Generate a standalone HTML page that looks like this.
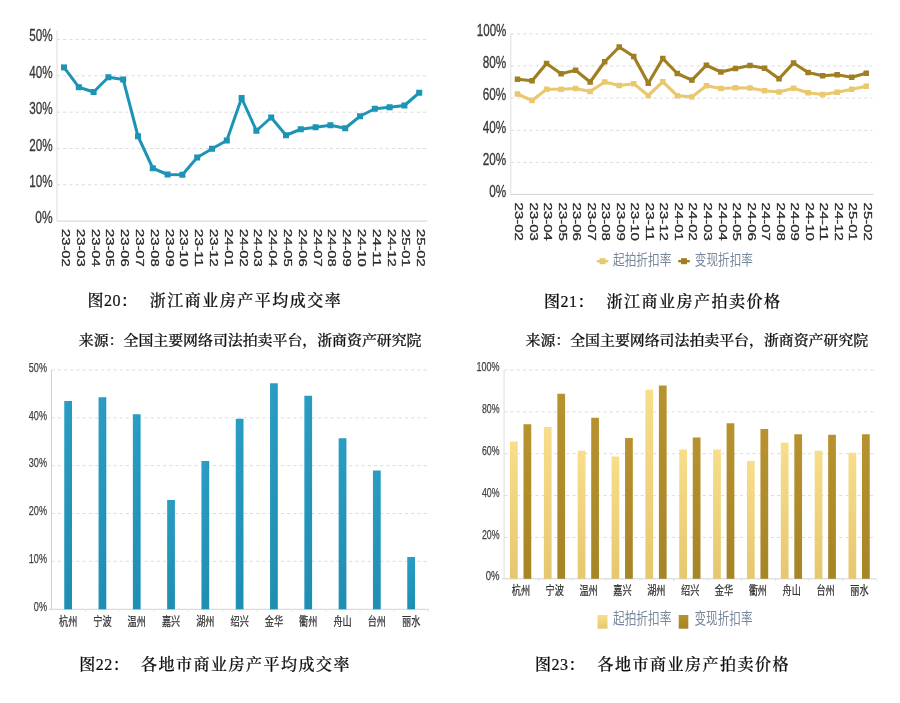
<!DOCTYPE html>
<html lang="zh-CN">
<head>
<meta charset="utf-8">
<title>浙江商业房产司法拍卖图表</title>
<style>
html,body{margin:0;padding:0;background:#fff;}
body{width:900px;height:703px;overflow:hidden;}
svg{display:block;}
</style>
</head>
<body>
<svg width="900" height="703" viewBox="0 0 900 703">
<rect x="0" y="0" width="900" height="703" fill="#ffffff"/>
<filter id="soft" x="0" y="0" width="900" height="703" filterUnits="userSpaceOnUse"><feGaussianBlur stdDeviation="0.65"/></filter>
<g filter="url(#soft)">
<line x1="57.0" y1="39.4" x2="427.3" y2="39.4" stroke="#dcdce0" stroke-width="1" stroke-dasharray="3.2 3"/>
<line x1="57.0" y1="75.8" x2="427.3" y2="75.8" stroke="#dcdce0" stroke-width="1" stroke-dasharray="3.2 3"/>
<line x1="57.0" y1="112.2" x2="427.3" y2="112.2" stroke="#dcdce0" stroke-width="1" stroke-dasharray="3.2 3"/>
<line x1="57.0" y1="148.5" x2="427.3" y2="148.5" stroke="#dcdce0" stroke-width="1" stroke-dasharray="3.2 3"/>
<line x1="57.0" y1="184.8" x2="427.3" y2="184.8" stroke="#dcdce0" stroke-width="1" stroke-dasharray="3.2 3"/>
<line x1="57.0" y1="31" x2="57.0" y2="221.1" stroke="#dddde2" stroke-width="1"/>
<line x1="57.0" y1="221.1" x2="427.3" y2="221.1" stroke="#d2d2d2" stroke-width="1"/>
<text x="52.6" y="41.4" font-size="16" fill="#363636" font-family='"Liberation Sans", "Noto Sans CJK SC", sans-serif' text-anchor="end" textLength="23.4" lengthAdjust="spacingAndGlyphs" stroke="#363636" stroke-width="0.3">50%</text>
<text x="52.6" y="77.8" font-size="16" fill="#363636" font-family='"Liberation Sans", "Noto Sans CJK SC", sans-serif' text-anchor="end" textLength="23.4" lengthAdjust="spacingAndGlyphs" stroke="#363636" stroke-width="0.3">40%</text>
<text x="52.6" y="114.2" font-size="16" fill="#363636" font-family='"Liberation Sans", "Noto Sans CJK SC", sans-serif' text-anchor="end" textLength="23.4" lengthAdjust="spacingAndGlyphs" stroke="#363636" stroke-width="0.3">30%</text>
<text x="52.6" y="150.5" font-size="16" fill="#363636" font-family='"Liberation Sans", "Noto Sans CJK SC", sans-serif' text-anchor="end" textLength="23.4" lengthAdjust="spacingAndGlyphs" stroke="#363636" stroke-width="0.3">20%</text>
<text x="52.6" y="186.8" font-size="16" fill="#363636" font-family='"Liberation Sans", "Noto Sans CJK SC", sans-serif' text-anchor="end" textLength="23.4" lengthAdjust="spacingAndGlyphs" stroke="#363636" stroke-width="0.3">10%</text>
<text x="52.6" y="223.1" font-size="16" fill="#363636" font-family='"Liberation Sans", "Noto Sans CJK SC", sans-serif' text-anchor="end" textLength="17.3" lengthAdjust="spacingAndGlyphs" stroke="#363636" stroke-width="0.3">0%</text>
<polyline fill="none" stroke="#1c94b6" stroke-width="3.0" stroke-linejoin="round" points="64.0,67.4 78.8,87.2 93.6,92 108.4,77.25 123.2,79.5 138.0,136.25 152.8,168.25 167.6,174.5 182.4,174.75 197.2,157.5 212.0,148.75 226.8,140.5 241.6,98 256.4,130.75 271.2,117.5 286.0,135.25 300.8,129.25 315.6,127.25 330.4,125.25 345.2,128.25 360.0,116.25 374.8,108.75 389.6,107.25 404.4,105.5 419.2,92.75"/>
<rect x="61.00" y="64.40" width="6.0" height="6.0" fill="#1c94b6"/>
<rect x="75.80" y="84.20" width="6.0" height="6.0" fill="#1c94b6"/>
<rect x="90.60" y="89.00" width="6.0" height="6.0" fill="#1c94b6"/>
<rect x="105.40" y="74.25" width="6.0" height="6.0" fill="#1c94b6"/>
<rect x="120.20" y="76.50" width="6.0" height="6.0" fill="#1c94b6"/>
<rect x="135.00" y="133.25" width="6.0" height="6.0" fill="#1c94b6"/>
<rect x="149.80" y="165.25" width="6.0" height="6.0" fill="#1c94b6"/>
<rect x="164.60" y="171.50" width="6.0" height="6.0" fill="#1c94b6"/>
<rect x="179.40" y="171.75" width="6.0" height="6.0" fill="#1c94b6"/>
<rect x="194.20" y="154.50" width="6.0" height="6.0" fill="#1c94b6"/>
<rect x="209.00" y="145.75" width="6.0" height="6.0" fill="#1c94b6"/>
<rect x="223.80" y="137.50" width="6.0" height="6.0" fill="#1c94b6"/>
<rect x="238.60" y="95.00" width="6.0" height="6.0" fill="#1c94b6"/>
<rect x="253.40" y="127.75" width="6.0" height="6.0" fill="#1c94b6"/>
<rect x="268.20" y="114.50" width="6.0" height="6.0" fill="#1c94b6"/>
<rect x="283.00" y="132.25" width="6.0" height="6.0" fill="#1c94b6"/>
<rect x="297.80" y="126.25" width="6.0" height="6.0" fill="#1c94b6"/>
<rect x="312.60" y="124.25" width="6.0" height="6.0" fill="#1c94b6"/>
<rect x="327.40" y="122.25" width="6.0" height="6.0" fill="#1c94b6"/>
<rect x="342.20" y="125.25" width="6.0" height="6.0" fill="#1c94b6"/>
<rect x="357.00" y="113.25" width="6.0" height="6.0" fill="#1c94b6"/>
<rect x="371.80" y="105.75" width="6.0" height="6.0" fill="#1c94b6"/>
<rect x="386.60" y="104.25" width="6.0" height="6.0" fill="#1c94b6"/>
<rect x="401.40" y="102.50" width="6.0" height="6.0" fill="#1c94b6"/>
<rect x="416.20" y="89.75" width="6.0" height="6.0" fill="#1c94b6"/>
<text transform="translate(61.9,229.0) rotate(90)" font-size="11.6" fill="#2a2a2a" stroke="#2a2a2a" stroke-width="0.3" font-family='"Liberation Sans", "Noto Sans CJK SC", sans-serif' textLength="37.8" lengthAdjust="spacingAndGlyphs">23-02</text>
<text transform="translate(76.7,229.0) rotate(90)" font-size="11.6" fill="#2a2a2a" stroke="#2a2a2a" stroke-width="0.3" font-family='"Liberation Sans", "Noto Sans CJK SC", sans-serif' textLength="37.8" lengthAdjust="spacingAndGlyphs">23-03</text>
<text transform="translate(91.5,229.0) rotate(90)" font-size="11.6" fill="#2a2a2a" stroke="#2a2a2a" stroke-width="0.3" font-family='"Liberation Sans", "Noto Sans CJK SC", sans-serif' textLength="37.8" lengthAdjust="spacingAndGlyphs">23-04</text>
<text transform="translate(106.3,229.0) rotate(90)" font-size="11.6" fill="#2a2a2a" stroke="#2a2a2a" stroke-width="0.3" font-family='"Liberation Sans", "Noto Sans CJK SC", sans-serif' textLength="37.8" lengthAdjust="spacingAndGlyphs">23-05</text>
<text transform="translate(121.1,229.0) rotate(90)" font-size="11.6" fill="#2a2a2a" stroke="#2a2a2a" stroke-width="0.3" font-family='"Liberation Sans", "Noto Sans CJK SC", sans-serif' textLength="37.8" lengthAdjust="spacingAndGlyphs">23-06</text>
<text transform="translate(135.9,229.0) rotate(90)" font-size="11.6" fill="#2a2a2a" stroke="#2a2a2a" stroke-width="0.3" font-family='"Liberation Sans", "Noto Sans CJK SC", sans-serif' textLength="37.8" lengthAdjust="spacingAndGlyphs">23-07</text>
<text transform="translate(150.7,229.0) rotate(90)" font-size="11.6" fill="#2a2a2a" stroke="#2a2a2a" stroke-width="0.3" font-family='"Liberation Sans", "Noto Sans CJK SC", sans-serif' textLength="37.8" lengthAdjust="spacingAndGlyphs">23-08</text>
<text transform="translate(165.5,229.0) rotate(90)" font-size="11.6" fill="#2a2a2a" stroke="#2a2a2a" stroke-width="0.3" font-family='"Liberation Sans", "Noto Sans CJK SC", sans-serif' textLength="37.8" lengthAdjust="spacingAndGlyphs">23-09</text>
<text transform="translate(180.3,229.0) rotate(90)" font-size="11.6" fill="#2a2a2a" stroke="#2a2a2a" stroke-width="0.3" font-family='"Liberation Sans", "Noto Sans CJK SC", sans-serif' textLength="37.8" lengthAdjust="spacingAndGlyphs">23-10</text>
<text transform="translate(195.1,229.0) rotate(90)" font-size="11.6" fill="#2a2a2a" stroke="#2a2a2a" stroke-width="0.3" font-family='"Liberation Sans", "Noto Sans CJK SC", sans-serif' textLength="37.8" lengthAdjust="spacingAndGlyphs">23-11</text>
<text transform="translate(209.9,229.0) rotate(90)" font-size="11.6" fill="#2a2a2a" stroke="#2a2a2a" stroke-width="0.3" font-family='"Liberation Sans", "Noto Sans CJK SC", sans-serif' textLength="37.8" lengthAdjust="spacingAndGlyphs">23-12</text>
<text transform="translate(224.7,229.0) rotate(90)" font-size="11.6" fill="#2a2a2a" stroke="#2a2a2a" stroke-width="0.3" font-family='"Liberation Sans", "Noto Sans CJK SC", sans-serif' textLength="37.8" lengthAdjust="spacingAndGlyphs">24-01</text>
<text transform="translate(239.5,229.0) rotate(90)" font-size="11.6" fill="#2a2a2a" stroke="#2a2a2a" stroke-width="0.3" font-family='"Liberation Sans", "Noto Sans CJK SC", sans-serif' textLength="37.8" lengthAdjust="spacingAndGlyphs">24-02</text>
<text transform="translate(254.3,229.0) rotate(90)" font-size="11.6" fill="#2a2a2a" stroke="#2a2a2a" stroke-width="0.3" font-family='"Liberation Sans", "Noto Sans CJK SC", sans-serif' textLength="37.8" lengthAdjust="spacingAndGlyphs">24-03</text>
<text transform="translate(269.1,229.0) rotate(90)" font-size="11.6" fill="#2a2a2a" stroke="#2a2a2a" stroke-width="0.3" font-family='"Liberation Sans", "Noto Sans CJK SC", sans-serif' textLength="37.8" lengthAdjust="spacingAndGlyphs">24-04</text>
<text transform="translate(283.9,229.0) rotate(90)" font-size="11.6" fill="#2a2a2a" stroke="#2a2a2a" stroke-width="0.3" font-family='"Liberation Sans", "Noto Sans CJK SC", sans-serif' textLength="37.8" lengthAdjust="spacingAndGlyphs">24-05</text>
<text transform="translate(298.7,229.0) rotate(90)" font-size="11.6" fill="#2a2a2a" stroke="#2a2a2a" stroke-width="0.3" font-family='"Liberation Sans", "Noto Sans CJK SC", sans-serif' textLength="37.8" lengthAdjust="spacingAndGlyphs">24-06</text>
<text transform="translate(313.5,229.0) rotate(90)" font-size="11.6" fill="#2a2a2a" stroke="#2a2a2a" stroke-width="0.3" font-family='"Liberation Sans", "Noto Sans CJK SC", sans-serif' textLength="37.8" lengthAdjust="spacingAndGlyphs">24-07</text>
<text transform="translate(328.3,229.0) rotate(90)" font-size="11.6" fill="#2a2a2a" stroke="#2a2a2a" stroke-width="0.3" font-family='"Liberation Sans", "Noto Sans CJK SC", sans-serif' textLength="37.8" lengthAdjust="spacingAndGlyphs">24-08</text>
<text transform="translate(343.1,229.0) rotate(90)" font-size="11.6" fill="#2a2a2a" stroke="#2a2a2a" stroke-width="0.3" font-family='"Liberation Sans", "Noto Sans CJK SC", sans-serif' textLength="37.8" lengthAdjust="spacingAndGlyphs">24-09</text>
<text transform="translate(357.9,229.0) rotate(90)" font-size="11.6" fill="#2a2a2a" stroke="#2a2a2a" stroke-width="0.3" font-family='"Liberation Sans", "Noto Sans CJK SC", sans-serif' textLength="37.8" lengthAdjust="spacingAndGlyphs">24-10</text>
<text transform="translate(372.7,229.0) rotate(90)" font-size="11.6" fill="#2a2a2a" stroke="#2a2a2a" stroke-width="0.3" font-family='"Liberation Sans", "Noto Sans CJK SC", sans-serif' textLength="37.8" lengthAdjust="spacingAndGlyphs">24-11</text>
<text transform="translate(387.5,229.0) rotate(90)" font-size="11.6" fill="#2a2a2a" stroke="#2a2a2a" stroke-width="0.3" font-family='"Liberation Sans", "Noto Sans CJK SC", sans-serif' textLength="37.8" lengthAdjust="spacingAndGlyphs">24-12</text>
<text transform="translate(402.3,229.0) rotate(90)" font-size="11.6" fill="#2a2a2a" stroke="#2a2a2a" stroke-width="0.3" font-family='"Liberation Sans", "Noto Sans CJK SC", sans-serif' textLength="37.8" lengthAdjust="spacingAndGlyphs">25-01</text>
<text transform="translate(417.1,229.0) rotate(90)" font-size="11.6" fill="#2a2a2a" stroke="#2a2a2a" stroke-width="0.3" font-family='"Liberation Sans", "Noto Sans CJK SC", sans-serif' textLength="37.8" lengthAdjust="spacingAndGlyphs">25-02</text>
<text x="87.6" y="306.3" font-size="16" fill="#111111" font-family='"Liberation Serif", "Noto Serif CJK SC", serif' text-anchor="start" letter-spacing="0.5" font-weight="500" stroke="#111111" stroke-width="0.22">图20：</text>
<text x="149.7" y="306.3" font-size="16" fill="#111111" font-family='"Liberation Serif", "Noto Serif CJK SC", serif' text-anchor="start" letter-spacing="1.5" font-weight="500" stroke="#111111" stroke-width="0.22">浙江商业房产平均成交率</text>
<text x="78.8" y="344.6" font-size="13.7" fill="#111111" font-family='"Liberation Serif", "Noto Serif CJK SC", serif' text-anchor="start" textLength="342.7" lengthAdjust="spacingAndGlyphs" font-weight="500" stroke="#111111" stroke-width="0.22">来源：全国主要网络司法拍卖平台，浙商资产研究院</text>
<line x1="510.8" y1="33.9" x2="872.5" y2="33.9" stroke="#dcdce0" stroke-width="1" stroke-dasharray="3.2 3"/>
<line x1="510.8" y1="66.0" x2="872.5" y2="66.0" stroke="#dcdce0" stroke-width="1" stroke-dasharray="3.2 3"/>
<line x1="510.8" y1="98.1" x2="872.5" y2="98.1" stroke="#dcdce0" stroke-width="1" stroke-dasharray="3.2 3"/>
<line x1="510.8" y1="130.3" x2="872.5" y2="130.3" stroke="#dcdce0" stroke-width="1" stroke-dasharray="3.2 3"/>
<line x1="510.8" y1="162.4" x2="872.5" y2="162.4" stroke="#dcdce0" stroke-width="1" stroke-dasharray="3.2 3"/>
<line x1="510.8" y1="33.9" x2="510.8" y2="194.4" stroke="#dddde2" stroke-width="1"/>
<line x1="510.8" y1="194.4" x2="873.5" y2="194.4" stroke="#d2d2d2" stroke-width="1"/>
<text x="506.3" y="36.199999999999996" font-size="16" fill="#363636" font-family='"Liberation Sans", "Noto Sans CJK SC", sans-serif' text-anchor="end" textLength="29.5" lengthAdjust="spacingAndGlyphs" stroke="#363636" stroke-width="0.3">100%</text>
<text x="506.3" y="68.3" font-size="16" fill="#363636" font-family='"Liberation Sans", "Noto Sans CJK SC", sans-serif' text-anchor="end" textLength="23.5" lengthAdjust="spacingAndGlyphs" stroke="#363636" stroke-width="0.3">80%</text>
<text x="506.3" y="100.39999999999999" font-size="16" fill="#363636" font-family='"Liberation Sans", "Noto Sans CJK SC", sans-serif' text-anchor="end" textLength="23.5" lengthAdjust="spacingAndGlyphs" stroke="#363636" stroke-width="0.3">60%</text>
<text x="506.3" y="132.60000000000002" font-size="16" fill="#363636" font-family='"Liberation Sans", "Noto Sans CJK SC", sans-serif' text-anchor="end" textLength="23.5" lengthAdjust="spacingAndGlyphs" stroke="#363636" stroke-width="0.3">40%</text>
<text x="506.3" y="164.70000000000002" font-size="16" fill="#363636" font-family='"Liberation Sans", "Noto Sans CJK SC", sans-serif' text-anchor="end" textLength="23.5" lengthAdjust="spacingAndGlyphs" stroke="#363636" stroke-width="0.3">20%</text>
<text x="506.3" y="196.70000000000002" font-size="16" fill="#363636" font-family='"Liberation Sans", "Noto Sans CJK SC", sans-serif' text-anchor="end" textLength="17.0" lengthAdjust="spacingAndGlyphs" stroke="#363636" stroke-width="0.3">0%</text>
<polyline fill="none" stroke="#e9c86f" stroke-width="3.2" stroke-linejoin="round" points="517.5,94 532.03,100.5 546.56,89.25 561.09,89.25 575.62,88.5 590.15,91.5 604.68,82 619.21,85.5 633.74,83.75 648.27,95.5 662.8,81.75 677.33,95.75 691.86,96.9 706.39,85.75 720.92,88.5 735.45,87.75 749.98,88 764.51,90.75 779.04,92 793.57,88.25 808.1,92.75 822.63,94.5 837.16,92.25 851.69,89.25 866.22,86.25"/>
<rect x="514.75" y="91.25" width="5.5" height="5.5" fill="#e9c86f"/>
<rect x="529.28" y="97.75" width="5.5" height="5.5" fill="#e9c86f"/>
<rect x="543.81" y="86.50" width="5.5" height="5.5" fill="#e9c86f"/>
<rect x="558.34" y="86.50" width="5.5" height="5.5" fill="#e9c86f"/>
<rect x="572.87" y="85.75" width="5.5" height="5.5" fill="#e9c86f"/>
<rect x="587.40" y="88.75" width="5.5" height="5.5" fill="#e9c86f"/>
<rect x="601.93" y="79.25" width="5.5" height="5.5" fill="#e9c86f"/>
<rect x="616.46" y="82.75" width="5.5" height="5.5" fill="#e9c86f"/>
<rect x="630.99" y="81.00" width="5.5" height="5.5" fill="#e9c86f"/>
<rect x="645.52" y="92.75" width="5.5" height="5.5" fill="#e9c86f"/>
<rect x="660.05" y="79.00" width="5.5" height="5.5" fill="#e9c86f"/>
<rect x="674.58" y="93.00" width="5.5" height="5.5" fill="#e9c86f"/>
<rect x="689.11" y="94.15" width="5.5" height="5.5" fill="#e9c86f"/>
<rect x="703.64" y="83.00" width="5.5" height="5.5" fill="#e9c86f"/>
<rect x="718.17" y="85.75" width="5.5" height="5.5" fill="#e9c86f"/>
<rect x="732.70" y="85.00" width="5.5" height="5.5" fill="#e9c86f"/>
<rect x="747.23" y="85.25" width="5.5" height="5.5" fill="#e9c86f"/>
<rect x="761.76" y="88.00" width="5.5" height="5.5" fill="#e9c86f"/>
<rect x="776.29" y="89.25" width="5.5" height="5.5" fill="#e9c86f"/>
<rect x="790.82" y="85.50" width="5.5" height="5.5" fill="#e9c86f"/>
<rect x="805.35" y="90.00" width="5.5" height="5.5" fill="#e9c86f"/>
<rect x="819.88" y="91.75" width="5.5" height="5.5" fill="#e9c86f"/>
<rect x="834.41" y="89.50" width="5.5" height="5.5" fill="#e9c86f"/>
<rect x="848.94" y="86.50" width="5.5" height="5.5" fill="#e9c86f"/>
<rect x="863.47" y="83.50" width="5.5" height="5.5" fill="#e9c86f"/>
<polyline fill="none" stroke="#a07e20" stroke-width="3.2" stroke-linejoin="round" points="517.5,79.25 532.03,80.75 546.56,63.5 561.09,73.75 575.62,70.25 590.15,82 604.68,61.75 619.21,47 633.74,56.5 648.27,83.25 662.8,58.5 677.33,73.5 691.86,80.1 706.39,65.25 720.92,72 735.45,68.5 749.98,65.5 764.51,68.25 779.04,78.75 793.57,63 808.1,72.5 822.63,75.75 837.16,74.75 851.69,77.25 866.22,73.25"/>
<rect x="514.75" y="76.50" width="5.5" height="5.5" fill="#a07e20"/>
<rect x="529.28" y="78.00" width="5.5" height="5.5" fill="#a07e20"/>
<rect x="543.81" y="60.75" width="5.5" height="5.5" fill="#a07e20"/>
<rect x="558.34" y="71.00" width="5.5" height="5.5" fill="#a07e20"/>
<rect x="572.87" y="67.50" width="5.5" height="5.5" fill="#a07e20"/>
<rect x="587.40" y="79.25" width="5.5" height="5.5" fill="#a07e20"/>
<rect x="601.93" y="59.00" width="5.5" height="5.5" fill="#a07e20"/>
<rect x="616.46" y="44.25" width="5.5" height="5.5" fill="#a07e20"/>
<rect x="630.99" y="53.75" width="5.5" height="5.5" fill="#a07e20"/>
<rect x="645.52" y="80.50" width="5.5" height="5.5" fill="#a07e20"/>
<rect x="660.05" y="55.75" width="5.5" height="5.5" fill="#a07e20"/>
<rect x="674.58" y="70.75" width="5.5" height="5.5" fill="#a07e20"/>
<rect x="689.11" y="77.35" width="5.5" height="5.5" fill="#a07e20"/>
<rect x="703.64" y="62.50" width="5.5" height="5.5" fill="#a07e20"/>
<rect x="718.17" y="69.25" width="5.5" height="5.5" fill="#a07e20"/>
<rect x="732.70" y="65.75" width="5.5" height="5.5" fill="#a07e20"/>
<rect x="747.23" y="62.75" width="5.5" height="5.5" fill="#a07e20"/>
<rect x="761.76" y="65.50" width="5.5" height="5.5" fill="#a07e20"/>
<rect x="776.29" y="76.00" width="5.5" height="5.5" fill="#a07e20"/>
<rect x="790.82" y="60.25" width="5.5" height="5.5" fill="#a07e20"/>
<rect x="805.35" y="69.75" width="5.5" height="5.5" fill="#a07e20"/>
<rect x="819.88" y="73.00" width="5.5" height="5.5" fill="#a07e20"/>
<rect x="834.41" y="72.00" width="5.5" height="5.5" fill="#a07e20"/>
<rect x="848.94" y="74.50" width="5.5" height="5.5" fill="#a07e20"/>
<rect x="863.47" y="70.50" width="5.5" height="5.5" fill="#a07e20"/>
<text transform="translate(515.1,202.6) rotate(90)" font-size="11.6" fill="#2a2a2a" stroke="#2a2a2a" stroke-width="0.3" font-family='"Liberation Sans", "Noto Sans CJK SC", sans-serif' textLength="38.2" lengthAdjust="spacingAndGlyphs">23-02</text>
<text transform="translate(529.63,202.6) rotate(90)" font-size="11.6" fill="#2a2a2a" stroke="#2a2a2a" stroke-width="0.3" font-family='"Liberation Sans", "Noto Sans CJK SC", sans-serif' textLength="38.2" lengthAdjust="spacingAndGlyphs">23-03</text>
<text transform="translate(544.16,202.6) rotate(90)" font-size="11.6" fill="#2a2a2a" stroke="#2a2a2a" stroke-width="0.3" font-family='"Liberation Sans", "Noto Sans CJK SC", sans-serif' textLength="38.2" lengthAdjust="spacingAndGlyphs">23-04</text>
<text transform="translate(558.69,202.6) rotate(90)" font-size="11.6" fill="#2a2a2a" stroke="#2a2a2a" stroke-width="0.3" font-family='"Liberation Sans", "Noto Sans CJK SC", sans-serif' textLength="38.2" lengthAdjust="spacingAndGlyphs">23-05</text>
<text transform="translate(573.22,202.6) rotate(90)" font-size="11.6" fill="#2a2a2a" stroke="#2a2a2a" stroke-width="0.3" font-family='"Liberation Sans", "Noto Sans CJK SC", sans-serif' textLength="38.2" lengthAdjust="spacingAndGlyphs">23-06</text>
<text transform="translate(587.75,202.6) rotate(90)" font-size="11.6" fill="#2a2a2a" stroke="#2a2a2a" stroke-width="0.3" font-family='"Liberation Sans", "Noto Sans CJK SC", sans-serif' textLength="38.2" lengthAdjust="spacingAndGlyphs">23-07</text>
<text transform="translate(602.28,202.6) rotate(90)" font-size="11.6" fill="#2a2a2a" stroke="#2a2a2a" stroke-width="0.3" font-family='"Liberation Sans", "Noto Sans CJK SC", sans-serif' textLength="38.2" lengthAdjust="spacingAndGlyphs">23-08</text>
<text transform="translate(616.81,202.6) rotate(90)" font-size="11.6" fill="#2a2a2a" stroke="#2a2a2a" stroke-width="0.3" font-family='"Liberation Sans", "Noto Sans CJK SC", sans-serif' textLength="38.2" lengthAdjust="spacingAndGlyphs">23-09</text>
<text transform="translate(631.34,202.6) rotate(90)" font-size="11.6" fill="#2a2a2a" stroke="#2a2a2a" stroke-width="0.3" font-family='"Liberation Sans", "Noto Sans CJK SC", sans-serif' textLength="38.2" lengthAdjust="spacingAndGlyphs">23-10</text>
<text transform="translate(645.87,202.6) rotate(90)" font-size="11.6" fill="#2a2a2a" stroke="#2a2a2a" stroke-width="0.3" font-family='"Liberation Sans", "Noto Sans CJK SC", sans-serif' textLength="38.2" lengthAdjust="spacingAndGlyphs">23-11</text>
<text transform="translate(660.4,202.6) rotate(90)" font-size="11.6" fill="#2a2a2a" stroke="#2a2a2a" stroke-width="0.3" font-family='"Liberation Sans", "Noto Sans CJK SC", sans-serif' textLength="38.2" lengthAdjust="spacingAndGlyphs">23-12</text>
<text transform="translate(674.93,202.6) rotate(90)" font-size="11.6" fill="#2a2a2a" stroke="#2a2a2a" stroke-width="0.3" font-family='"Liberation Sans", "Noto Sans CJK SC", sans-serif' textLength="38.2" lengthAdjust="spacingAndGlyphs">24-01</text>
<text transform="translate(689.46,202.6) rotate(90)" font-size="11.6" fill="#2a2a2a" stroke="#2a2a2a" stroke-width="0.3" font-family='"Liberation Sans", "Noto Sans CJK SC", sans-serif' textLength="38.2" lengthAdjust="spacingAndGlyphs">24-02</text>
<text transform="translate(703.99,202.6) rotate(90)" font-size="11.6" fill="#2a2a2a" stroke="#2a2a2a" stroke-width="0.3" font-family='"Liberation Sans", "Noto Sans CJK SC", sans-serif' textLength="38.2" lengthAdjust="spacingAndGlyphs">24-03</text>
<text transform="translate(718.52,202.6) rotate(90)" font-size="11.6" fill="#2a2a2a" stroke="#2a2a2a" stroke-width="0.3" font-family='"Liberation Sans", "Noto Sans CJK SC", sans-serif' textLength="38.2" lengthAdjust="spacingAndGlyphs">24-04</text>
<text transform="translate(733.05,202.6) rotate(90)" font-size="11.6" fill="#2a2a2a" stroke="#2a2a2a" stroke-width="0.3" font-family='"Liberation Sans", "Noto Sans CJK SC", sans-serif' textLength="38.2" lengthAdjust="spacingAndGlyphs">24-05</text>
<text transform="translate(747.58,202.6) rotate(90)" font-size="11.6" fill="#2a2a2a" stroke="#2a2a2a" stroke-width="0.3" font-family='"Liberation Sans", "Noto Sans CJK SC", sans-serif' textLength="38.2" lengthAdjust="spacingAndGlyphs">24-06</text>
<text transform="translate(762.11,202.6) rotate(90)" font-size="11.6" fill="#2a2a2a" stroke="#2a2a2a" stroke-width="0.3" font-family='"Liberation Sans", "Noto Sans CJK SC", sans-serif' textLength="38.2" lengthAdjust="spacingAndGlyphs">24-07</text>
<text transform="translate(776.64,202.6) rotate(90)" font-size="11.6" fill="#2a2a2a" stroke="#2a2a2a" stroke-width="0.3" font-family='"Liberation Sans", "Noto Sans CJK SC", sans-serif' textLength="38.2" lengthAdjust="spacingAndGlyphs">24-08</text>
<text transform="translate(791.17,202.6) rotate(90)" font-size="11.6" fill="#2a2a2a" stroke="#2a2a2a" stroke-width="0.3" font-family='"Liberation Sans", "Noto Sans CJK SC", sans-serif' textLength="38.2" lengthAdjust="spacingAndGlyphs">24-09</text>
<text transform="translate(805.7,202.6) rotate(90)" font-size="11.6" fill="#2a2a2a" stroke="#2a2a2a" stroke-width="0.3" font-family='"Liberation Sans", "Noto Sans CJK SC", sans-serif' textLength="38.2" lengthAdjust="spacingAndGlyphs">24-10</text>
<text transform="translate(820.23,202.6) rotate(90)" font-size="11.6" fill="#2a2a2a" stroke="#2a2a2a" stroke-width="0.3" font-family='"Liberation Sans", "Noto Sans CJK SC", sans-serif' textLength="38.2" lengthAdjust="spacingAndGlyphs">24-11</text>
<text transform="translate(834.76,202.6) rotate(90)" font-size="11.6" fill="#2a2a2a" stroke="#2a2a2a" stroke-width="0.3" font-family='"Liberation Sans", "Noto Sans CJK SC", sans-serif' textLength="38.2" lengthAdjust="spacingAndGlyphs">24-12</text>
<text transform="translate(849.29,202.6) rotate(90)" font-size="11.6" fill="#2a2a2a" stroke="#2a2a2a" stroke-width="0.3" font-family='"Liberation Sans", "Noto Sans CJK SC", sans-serif' textLength="38.2" lengthAdjust="spacingAndGlyphs">25-01</text>
<text transform="translate(863.82,202.6) rotate(90)" font-size="11.6" fill="#2a2a2a" stroke="#2a2a2a" stroke-width="0.3" font-family='"Liberation Sans", "Noto Sans CJK SC", sans-serif' textLength="38.2" lengthAdjust="spacingAndGlyphs">25-02</text>
<line x1="596.8" y1="261.2" x2="608.4" y2="261.2" stroke="#e9c86f" stroke-width="2.4"/>
<rect x="599.6" y="258.2" width="6" height="6" fill="#e9c86f"/>
<text x="613.0" y="264.6" font-size="15" fill="#78879b" font-family='"Liberation Sans", "Noto Sans CJK SC", sans-serif' text-anchor="start" textLength="58.4" lengthAdjust="spacingAndGlyphs">起拍折扣率</text>
<line x1="678.2" y1="261.2" x2="689.8" y2="261.2" stroke="#a07e20" stroke-width="2.4"/>
<rect x="681.0" y="258.2" width="6" height="6" fill="#a07e20"/>
<text x="694.8" y="264.6" font-size="15" fill="#78879b" font-family='"Liberation Sans", "Noto Sans CJK SC", sans-serif' text-anchor="start" textLength="58.2" lengthAdjust="spacingAndGlyphs">变现折扣率</text>
<text x="544.0" y="306.8" font-size="16" fill="#111111" font-family='"Liberation Serif", "Noto Serif CJK SC", serif' text-anchor="start" letter-spacing="0.5" font-weight="500" stroke="#111111" stroke-width="0.22">图21：</text>
<text x="606.5" y="306.8" font-size="16" fill="#111111" font-family='"Liberation Serif", "Noto Serif CJK SC", serif' text-anchor="start" letter-spacing="1.5" font-weight="500" stroke="#111111" stroke-width="0.22">浙江商业房产拍卖价格</text>
<text x="525.5" y="344.8" font-size="13.7" fill="#111111" font-family='"Liberation Serif", "Noto Serif CJK SC", serif' text-anchor="start" textLength="342.7" lengthAdjust="spacingAndGlyphs" font-weight="500" stroke="#111111" stroke-width="0.22">来源：全国主要网络司法拍卖平台，浙商资产研究院</text>
<defs><linearGradient id="gb" x1="0" x2="0.25" y1="0" y2="1"><stop offset="0" stop-color="#2b9ec5"/><stop offset="1" stop-color="#1f8fb3"/></linearGradient><linearGradient id="gl" x1="0" x2="0" y1="0" y2="1"><stop offset="0" stop-color="#f8de8a"/><stop offset="1" stop-color="#e6c76f"/></linearGradient><linearGradient id="gd" x1="0" x2="0" y1="0" y2="1"><stop offset="0" stop-color="#b8922f"/><stop offset="1" stop-color="#a68527"/></linearGradient></defs>
<line x1="51.5" y1="370.0" x2="430" y2="370.0" stroke="#dcdce0" stroke-width="1" stroke-dasharray="3.2 3"/>
<line x1="51.5" y1="417.85" x2="430" y2="417.85" stroke="#dcdce0" stroke-width="1" stroke-dasharray="3.2 3"/>
<line x1="51.5" y1="465.65" x2="430" y2="465.65" stroke="#dcdce0" stroke-width="1" stroke-dasharray="3.2 3"/>
<line x1="51.5" y1="513.5" x2="430" y2="513.5" stroke="#dcdce0" stroke-width="1" stroke-dasharray="3.2 3"/>
<line x1="51.5" y1="561.3" x2="430" y2="561.3" stroke="#dcdce0" stroke-width="1" stroke-dasharray="3.2 3"/>
<line x1="51.5" y1="370.0" x2="51.5" y2="609.3" stroke="#d2d2d2" stroke-width="1"/>
<line x1="49.0" y1="609.3" x2="428.7" y2="609.3" stroke="#d2d2d2" stroke-width="1"/>
<text x="47" y="371.8" font-size="13.2" fill="#404040" font-family='"Liberation Sans", "Noto Sans CJK SC", sans-serif' text-anchor="end" textLength="18.2" lengthAdjust="spacingAndGlyphs" stroke="#404040" stroke-width="0.25">50%</text>
<text x="47" y="419.65000000000003" font-size="13.2" fill="#404040" font-family='"Liberation Sans", "Noto Sans CJK SC", sans-serif' text-anchor="end" textLength="18.2" lengthAdjust="spacingAndGlyphs" stroke="#404040" stroke-width="0.25">40%</text>
<text x="47" y="467.45" font-size="13.2" fill="#404040" font-family='"Liberation Sans", "Noto Sans CJK SC", sans-serif' text-anchor="end" textLength="18.2" lengthAdjust="spacingAndGlyphs" stroke="#404040" stroke-width="0.25">30%</text>
<text x="47" y="515.3" font-size="13.2" fill="#404040" font-family='"Liberation Sans", "Noto Sans CJK SC", sans-serif' text-anchor="end" textLength="18.2" lengthAdjust="spacingAndGlyphs" stroke="#404040" stroke-width="0.25">20%</text>
<text x="47" y="563.0999999999999" font-size="13.2" fill="#404040" font-family='"Liberation Sans", "Noto Sans CJK SC", sans-serif' text-anchor="end" textLength="18.2" lengthAdjust="spacingAndGlyphs" stroke="#404040" stroke-width="0.25">10%</text>
<text x="47" y="611.0999999999999" font-size="13.2" fill="#404040" font-family='"Liberation Sans", "Noto Sans CJK SC", sans-serif' text-anchor="end" textLength="13.2" lengthAdjust="spacingAndGlyphs" stroke="#404040" stroke-width="0.25">0%</text>
<rect x="64.25" y="401" width="7.75" height="208.30" fill="url(#gb)"/>
<text x="68.15" y="625.5" font-size="12.1" fill="#333333" font-family='"Liberation Sans", "Noto Sans CJK SC", sans-serif' text-anchor="middle" textLength="18.3" lengthAdjust="spacingAndGlyphs" stroke="#333333" stroke-width="0.25">杭州</text>
<line x1="85.6" y1="609.3" x2="85.6" y2="611.8" stroke="#e2e2e2" stroke-width="1"/>
<rect x="98.55" y="397.25" width="7.75" height="212.05" fill="url(#gb)"/>
<text x="102.45" y="625.5" font-size="12.1" fill="#333333" font-family='"Liberation Sans", "Noto Sans CJK SC", sans-serif' text-anchor="middle" textLength="18.3" lengthAdjust="spacingAndGlyphs" stroke="#333333" stroke-width="0.25">宁波</text>
<line x1="119.9" y1="609.3" x2="119.9" y2="611.8" stroke="#e2e2e2" stroke-width="1"/>
<rect x="132.85" y="414.25" width="7.75" height="195.05" fill="url(#gb)"/>
<text x="136.75" y="625.5" font-size="12.1" fill="#333333" font-family='"Liberation Sans", "Noto Sans CJK SC", sans-serif' text-anchor="middle" textLength="18.3" lengthAdjust="spacingAndGlyphs" stroke="#333333" stroke-width="0.25">温州</text>
<line x1="154.2" y1="609.3" x2="154.2" y2="611.8" stroke="#e2e2e2" stroke-width="1"/>
<rect x="167.15" y="500" width="7.75" height="109.30" fill="url(#gb)"/>
<text x="171.05" y="625.5" font-size="12.1" fill="#333333" font-family='"Liberation Sans", "Noto Sans CJK SC", sans-serif' text-anchor="middle" textLength="18.3" lengthAdjust="spacingAndGlyphs" stroke="#333333" stroke-width="0.25">嘉兴</text>
<line x1="188.5" y1="609.3" x2="188.5" y2="611.8" stroke="#e2e2e2" stroke-width="1"/>
<rect x="201.45" y="461" width="7.75" height="148.30" fill="url(#gb)"/>
<text x="205.35" y="625.5" font-size="12.1" fill="#333333" font-family='"Liberation Sans", "Noto Sans CJK SC", sans-serif' text-anchor="middle" textLength="18.3" lengthAdjust="spacingAndGlyphs" stroke="#333333" stroke-width="0.25">湖州</text>
<line x1="222.8" y1="609.3" x2="222.8" y2="611.8" stroke="#e2e2e2" stroke-width="1"/>
<rect x="235.75" y="418.75" width="7.75" height="190.55" fill="url(#gb)"/>
<text x="239.65" y="625.5" font-size="12.1" fill="#333333" font-family='"Liberation Sans", "Noto Sans CJK SC", sans-serif' text-anchor="middle" textLength="18.3" lengthAdjust="spacingAndGlyphs" stroke="#333333" stroke-width="0.25">绍兴</text>
<line x1="257.1" y1="609.3" x2="257.1" y2="611.8" stroke="#e2e2e2" stroke-width="1"/>
<rect x="270.05" y="383.25" width="7.75" height="226.05" fill="url(#gb)"/>
<text x="273.95" y="625.5" font-size="12.1" fill="#333333" font-family='"Liberation Sans", "Noto Sans CJK SC", sans-serif' text-anchor="middle" textLength="18.3" lengthAdjust="spacingAndGlyphs" stroke="#333333" stroke-width="0.25">金华</text>
<line x1="291.4" y1="609.3" x2="291.4" y2="611.8" stroke="#e2e2e2" stroke-width="1"/>
<rect x="304.35" y="395.75" width="7.75" height="213.55" fill="url(#gb)"/>
<text x="308.25" y="625.5" font-size="12.1" fill="#333333" font-family='"Liberation Sans", "Noto Sans CJK SC", sans-serif' text-anchor="middle" textLength="18.3" lengthAdjust="spacingAndGlyphs" stroke="#333333" stroke-width="0.25">衢州</text>
<line x1="325.7" y1="609.3" x2="325.7" y2="611.8" stroke="#e2e2e2" stroke-width="1"/>
<rect x="338.65" y="438.25" width="7.75" height="171.05" fill="url(#gb)"/>
<text x="342.55" y="625.5" font-size="12.1" fill="#333333" font-family='"Liberation Sans", "Noto Sans CJK SC", sans-serif' text-anchor="middle" textLength="18.3" lengthAdjust="spacingAndGlyphs" stroke="#333333" stroke-width="0.25">舟山</text>
<line x1="360.0" y1="609.3" x2="360.0" y2="611.8" stroke="#e2e2e2" stroke-width="1"/>
<rect x="372.95" y="470.5" width="7.75" height="138.80" fill="url(#gb)"/>
<text x="376.85" y="625.5" font-size="12.1" fill="#333333" font-family='"Liberation Sans", "Noto Sans CJK SC", sans-serif' text-anchor="middle" textLength="18.3" lengthAdjust="spacingAndGlyphs" stroke="#333333" stroke-width="0.25">台州</text>
<line x1="394.3" y1="609.3" x2="394.3" y2="611.8" stroke="#e2e2e2" stroke-width="1"/>
<rect x="407.25" y="557" width="7.75" height="52.30" fill="url(#gb)"/>
<text x="411.15" y="625.5" font-size="12.1" fill="#333333" font-family='"Liberation Sans", "Noto Sans CJK SC", sans-serif' text-anchor="middle" textLength="18.3" lengthAdjust="spacingAndGlyphs" stroke="#333333" stroke-width="0.25">丽水</text>
<line x1="428.6" y1="609.3" x2="428.6" y2="611.8" stroke="#e2e2e2" stroke-width="1"/>
<text x="79.3" y="670" font-size="16" fill="#111111" font-family='"Liberation Serif", "Noto Serif CJK SC", serif' text-anchor="start" letter-spacing="0.5" font-weight="500" stroke="#111111" stroke-width="0.22">图22：</text>
<text x="141" y="670" font-size="16" fill="#111111" font-family='"Liberation Serif", "Noto Serif CJK SC", serif' text-anchor="start" letter-spacing="1.5" font-weight="500" stroke="#111111" stroke-width="0.22">各地市商业房产平均成交率</text>
<line x1="504.3" y1="370.0" x2="876" y2="370.0" stroke="#dcdce0" stroke-width="1" stroke-dasharray="3.2 3"/>
<line x1="504.3" y1="411.85" x2="876" y2="411.85" stroke="#dcdce0" stroke-width="1" stroke-dasharray="3.2 3"/>
<line x1="504.3" y1="453.7" x2="876" y2="453.7" stroke="#dcdce0" stroke-width="1" stroke-dasharray="3.2 3"/>
<line x1="504.3" y1="495.6" x2="876" y2="495.6" stroke="#dcdce0" stroke-width="1" stroke-dasharray="3.2 3"/>
<line x1="504.3" y1="537.45" x2="876" y2="537.45" stroke="#dcdce0" stroke-width="1" stroke-dasharray="3.2 3"/>
<line x1="504.1" y1="370.0" x2="504.1" y2="578.8" stroke="#dddde2" stroke-width="1"/>
<line x1="502.2" y1="578.8" x2="876" y2="578.8" stroke="#d2d2d2" stroke-width="1"/>
<text x="499.5" y="371.4" font-size="13.2" fill="#404040" font-family='"Liberation Sans", "Noto Sans CJK SC", sans-serif' text-anchor="end" textLength="23" lengthAdjust="spacingAndGlyphs" stroke="#404040" stroke-width="0.25">100%</text>
<text x="499.5" y="413.25" font-size="13.2" fill="#404040" font-family='"Liberation Sans", "Noto Sans CJK SC", sans-serif' text-anchor="end" textLength="17.6" lengthAdjust="spacingAndGlyphs" stroke="#404040" stroke-width="0.25">80%</text>
<text x="499.5" y="455.09999999999997" font-size="13.2" fill="#404040" font-family='"Liberation Sans", "Noto Sans CJK SC", sans-serif' text-anchor="end" textLength="17.6" lengthAdjust="spacingAndGlyphs" stroke="#404040" stroke-width="0.25">60%</text>
<text x="499.5" y="497.0" font-size="13.2" fill="#404040" font-family='"Liberation Sans", "Noto Sans CJK SC", sans-serif' text-anchor="end" textLength="17.6" lengthAdjust="spacingAndGlyphs" stroke="#404040" stroke-width="0.25">40%</text>
<text x="499.5" y="538.85" font-size="13.2" fill="#404040" font-family='"Liberation Sans", "Noto Sans CJK SC", sans-serif' text-anchor="end" textLength="17.6" lengthAdjust="spacingAndGlyphs" stroke="#404040" stroke-width="0.25">20%</text>
<text x="499.5" y="580.1999999999999" font-size="13.2" fill="#404040" font-family='"Liberation Sans", "Noto Sans CJK SC", sans-serif' text-anchor="end" textLength="13.8" lengthAdjust="spacingAndGlyphs" stroke="#404040" stroke-width="0.25">0%</text>
<rect x="510.00" y="441.5" width="7.75" height="137.30" fill="url(#gl)"/>
<rect x="523.50" y="424.25" width="7.75" height="154.55" fill="url(#gd)"/>
<text x="520.9" y="595.4" font-size="12.2" fill="#333333" font-family='"Liberation Sans", "Noto Sans CJK SC", sans-serif' text-anchor="middle" textLength="18.3" lengthAdjust="spacingAndGlyphs" stroke="#333333" stroke-width="0.25">杭州</text>
<line x1="538.35" y1="578.8" x2="538.35" y2="581.3" stroke="#e2e2e2" stroke-width="1"/>
<rect x="543.85" y="427" width="7.75" height="151.80" fill="url(#gl)"/>
<rect x="557.35" y="393.75" width="7.75" height="185.05" fill="url(#gd)"/>
<text x="554.75" y="595.4" font-size="12.2" fill="#333333" font-family='"Liberation Sans", "Noto Sans CJK SC", sans-serif' text-anchor="middle" textLength="18.3" lengthAdjust="spacingAndGlyphs" stroke="#333333" stroke-width="0.25">宁波</text>
<line x1="572.2" y1="578.8" x2="572.2" y2="581.3" stroke="#e2e2e2" stroke-width="1"/>
<rect x="577.70" y="450.75" width="7.75" height="128.05" fill="url(#gl)"/>
<rect x="591.20" y="417.75" width="7.75" height="161.05" fill="url(#gd)"/>
<text x="588.6" y="595.4" font-size="12.2" fill="#333333" font-family='"Liberation Sans", "Noto Sans CJK SC", sans-serif' text-anchor="middle" textLength="18.3" lengthAdjust="spacingAndGlyphs" stroke="#333333" stroke-width="0.25">温州</text>
<line x1="606.05" y1="578.8" x2="606.05" y2="581.3" stroke="#e2e2e2" stroke-width="1"/>
<rect x="611.55" y="456.5" width="7.75" height="122.30" fill="url(#gl)"/>
<rect x="625.05" y="438" width="7.75" height="140.80" fill="url(#gd)"/>
<text x="622.45" y="595.4" font-size="12.2" fill="#333333" font-family='"Liberation Sans", "Noto Sans CJK SC", sans-serif' text-anchor="middle" textLength="18.3" lengthAdjust="spacingAndGlyphs" stroke="#333333" stroke-width="0.25">嘉兴</text>
<line x1="639.9" y1="578.8" x2="639.9" y2="581.3" stroke="#e2e2e2" stroke-width="1"/>
<rect x="645.40" y="389.75" width="7.75" height="189.05" fill="url(#gl)"/>
<rect x="658.90" y="385.5" width="7.75" height="193.30" fill="url(#gd)"/>
<text x="656.3" y="595.4" font-size="12.2" fill="#333333" font-family='"Liberation Sans", "Noto Sans CJK SC", sans-serif' text-anchor="middle" textLength="18.3" lengthAdjust="spacingAndGlyphs" stroke="#333333" stroke-width="0.25">湖州</text>
<line x1="673.75" y1="578.8" x2="673.75" y2="581.3" stroke="#e2e2e2" stroke-width="1"/>
<rect x="679.25" y="449.5" width="7.75" height="129.30" fill="url(#gl)"/>
<rect x="692.75" y="437.5" width="7.75" height="141.30" fill="url(#gd)"/>
<text x="690.15" y="595.4" font-size="12.2" fill="#333333" font-family='"Liberation Sans", "Noto Sans CJK SC", sans-serif' text-anchor="middle" textLength="18.3" lengthAdjust="spacingAndGlyphs" stroke="#333333" stroke-width="0.25">绍兴</text>
<line x1="707.6" y1="578.8" x2="707.6" y2="581.3" stroke="#e2e2e2" stroke-width="1"/>
<rect x="713.10" y="449.5" width="7.75" height="129.30" fill="url(#gl)"/>
<rect x="726.60" y="423.25" width="7.75" height="155.55" fill="url(#gd)"/>
<text x="724.0" y="595.4" font-size="12.2" fill="#333333" font-family='"Liberation Sans", "Noto Sans CJK SC", sans-serif' text-anchor="middle" textLength="18.3" lengthAdjust="spacingAndGlyphs" stroke="#333333" stroke-width="0.25">金华</text>
<line x1="741.45" y1="578.8" x2="741.45" y2="581.3" stroke="#e2e2e2" stroke-width="1"/>
<rect x="746.95" y="461" width="7.75" height="117.80" fill="url(#gl)"/>
<rect x="760.45" y="429" width="7.75" height="149.80" fill="url(#gd)"/>
<text x="757.85" y="595.4" font-size="12.2" fill="#333333" font-family='"Liberation Sans", "Noto Sans CJK SC", sans-serif' text-anchor="middle" textLength="18.3" lengthAdjust="spacingAndGlyphs" stroke="#333333" stroke-width="0.25">衢州</text>
<line x1="775.3" y1="578.8" x2="775.3" y2="581.3" stroke="#e2e2e2" stroke-width="1"/>
<rect x="780.80" y="442.5" width="7.75" height="136.30" fill="url(#gl)"/>
<rect x="794.30" y="434.25" width="7.75" height="144.55" fill="url(#gd)"/>
<text x="791.7" y="595.4" font-size="12.2" fill="#333333" font-family='"Liberation Sans", "Noto Sans CJK SC", sans-serif' text-anchor="middle" textLength="18.3" lengthAdjust="spacingAndGlyphs" stroke="#333333" stroke-width="0.25">舟山</text>
<line x1="809.15" y1="578.8" x2="809.15" y2="581.3" stroke="#e2e2e2" stroke-width="1"/>
<rect x="814.65" y="450.75" width="7.75" height="128.05" fill="url(#gl)"/>
<rect x="828.15" y="434.75" width="7.75" height="144.05" fill="url(#gd)"/>
<text x="825.55" y="595.4" font-size="12.2" fill="#333333" font-family='"Liberation Sans", "Noto Sans CJK SC", sans-serif' text-anchor="middle" textLength="18.3" lengthAdjust="spacingAndGlyphs" stroke="#333333" stroke-width="0.25">台州</text>
<line x1="843.0" y1="578.8" x2="843.0" y2="581.3" stroke="#e2e2e2" stroke-width="1"/>
<rect x="848.50" y="452.75" width="7.75" height="126.05" fill="url(#gl)"/>
<rect x="862.00" y="434.25" width="7.75" height="144.55" fill="url(#gd)"/>
<text x="859.4" y="595.4" font-size="12.2" fill="#333333" font-family='"Liberation Sans", "Noto Sans CJK SC", sans-serif' text-anchor="middle" textLength="18.3" lengthAdjust="spacingAndGlyphs" stroke="#333333" stroke-width="0.25">丽水</text>
<line x1="876.85" y1="578.8" x2="876.85" y2="581.3" stroke="#e2e2e2" stroke-width="1"/>
<rect x="597.5" y="615" width="10" height="13.7" fill="url(#gl)"/>
<text x="613" y="624.2" font-size="15.8" fill="#78879b" font-family='"Liberation Sans", "Noto Sans CJK SC", sans-serif' text-anchor="start" textLength="58.3" lengthAdjust="spacingAndGlyphs">起拍折扣率</text>
<rect x="678.7" y="615" width="9.6" height="13.7" fill="url(#gd)"/>
<text x="694.5" y="624.2" font-size="15.8" fill="#78879b" font-family='"Liberation Sans", "Noto Sans CJK SC", sans-serif' text-anchor="start" textLength="58" lengthAdjust="spacingAndGlyphs">变现折扣率</text>
<text x="535.0" y="670" font-size="16" fill="#111111" font-family='"Liberation Serif", "Noto Serif CJK SC", serif' text-anchor="start" letter-spacing="0.5" font-weight="500" stroke="#111111" stroke-width="0.22">图23：</text>
<text x="597.5" y="670" font-size="16" fill="#111111" font-family='"Liberation Serif", "Noto Serif CJK SC", serif' text-anchor="start" letter-spacing="1.5" font-weight="500" stroke="#111111" stroke-width="0.22">各地市商业房产拍卖价格</text>
</g>
</svg>
</body>
</html>
